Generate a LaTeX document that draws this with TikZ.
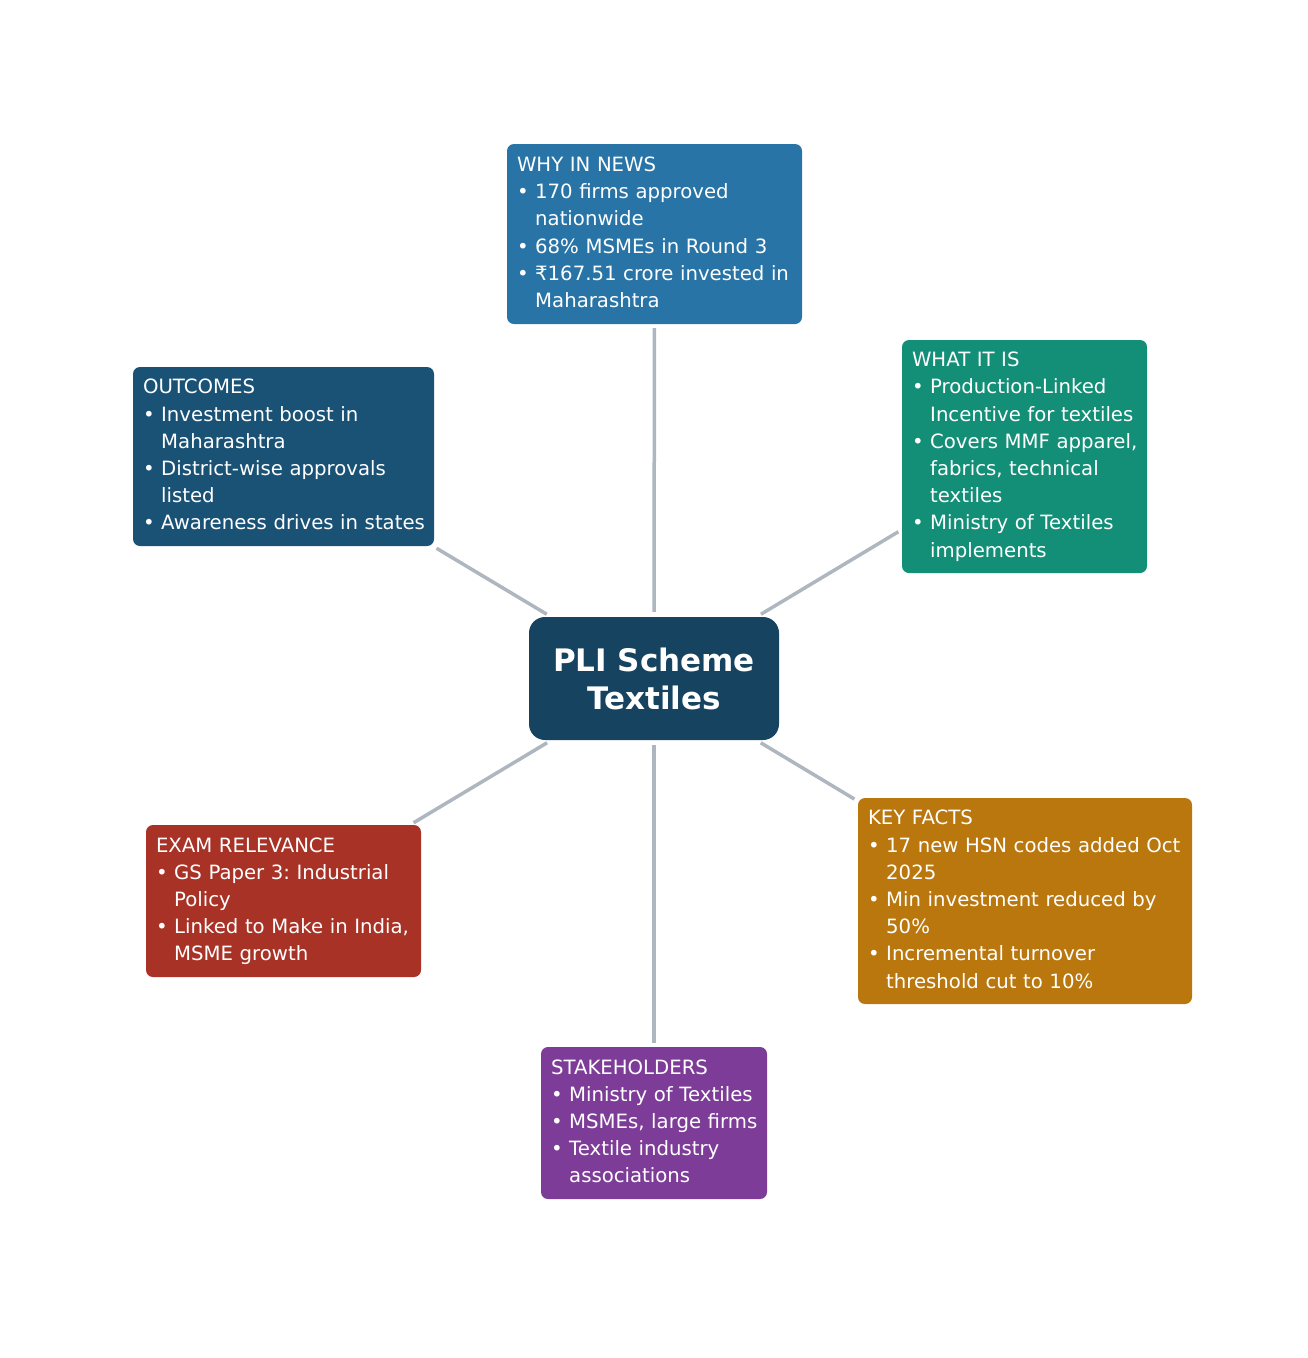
\documentclass[tikz,border=0pt]{standalone}
\usepackage{fontspec}
\setmainfont{DejaVu Sans}
\frenchspacing
\definecolor{cwhy}{HTML}{2874A6}
\definecolor{cwhat}{HTML}{148F77}
\definecolor{ckey}{HTML}{B9770E}
\definecolor{cstake}{HTML}{7D3C98}
\definecolor{cexam}{HTML}{A93226}
\definecolor{cout}{HTML}{1A5276}
\definecolor{ccen}{HTML}{154360}
\definecolor{cline}{HTML}{AEB6BF}
\newcommand\bu{•\ }
\newcommand\ii{\hphantom{•\ }}
\newcommand\bx[1]{\begin{tabular}{@{}l@{}}#1\end{tabular}}
\tikzset{
  infobox/.style 2 args={draw=none, fill=#1, rounded corners=7pt, text=white,
    inner xsep=10pt, inner ysep=0pt, text width=#2, align=left,
    font=\fontsize{19.7}{27.2}\selectfont\frenchspacing},
  cen/.style={fill=ccen, rounded corners=16pt, text=white, align=center,
    minimum width=250pt, minimum height=123pt, inner sep=0pt,
    font=\fontsize{31}{38}\selectfont\bfseries},
  spoke/.style={draw=cline, line width=3.5pt, shorten >=4pt, shorten <=5pt}
}
\begin{document}
\begin{tikzpicture}[x=1pt,y=-1pt]
\useasboundingbox (0,0) rectangle (1308,1358);
\node[cen] (c) at (654,678.5) {PLI Scheme\\Textiles};
\node[infobox={cwhy}{275pt}, minimum height=180pt] (why) at (654.5,234)
  {\bx{WHY IN NEWS\\\bu 170 firms approved\\\ii nationwide\\\bu 68\% MSMEs in Round 3\\\bu ₹167.51 crore invested in\\\ii Maharashtra}};
\node[infobox={cwhat}{225pt}, minimum height=233pt] (what) at (1024.5,456.5)
  {\bx{WHAT IT IS\\\bu Production-Linked\\\ii Incentive for textiles\\\bu Covers MMF apparel,\\\ii fabrics, technical\\\ii textiles\\\bu Ministry of Textiles\\\ii implements}};
\node[infobox={ckey}{314pt}, minimum height=206pt] (key) at (1025,901)
  {\bx{KEY FACTS\\\bu 17 new HSN codes added Oct\\\ii 2025\\\bu Min investment reduced by\\\ii 50\%\\\bu Incremental turnover\\\ii threshold cut to 10\%}};
\node[infobox={cstake}{206pt}, minimum height=152pt] (stake) at (654,1123)
  {\bx{STAKEHOLDERS\\\bu Ministry of Textiles\\\bu MSMEs, large firms\\\bu Textile industry\\\ii associations}};
\node[infobox={cexam}{255pt}, minimum height=152pt] (exam) at (283.5,901)
  {\bx{EXAM RELEVANCE\\\bu GS Paper 3: Industrial\\\ii Policy\\\bu Linked to Make in India,\\\ii MSME growth}};
\node[infobox={cout}{281pt}, minimum height=179pt] (out) at (283.5,456.5)
  {\bx{OUTCOMES\\\bu Investment boost in\\\ii Maharashtra\\\bu District-wise approvals\\\ii listed\\\bu Awareness drives in states}};
\draw[spoke] (c) -- (why);
\draw[spoke] (c) -- (what);
\draw[spoke] (c) -- (key);
\draw[spoke] (c) -- (stake);
\draw[spoke] (c) -- (exam);
\draw[spoke] (c) -- (out);
\end{tikzpicture}
\end{document}
